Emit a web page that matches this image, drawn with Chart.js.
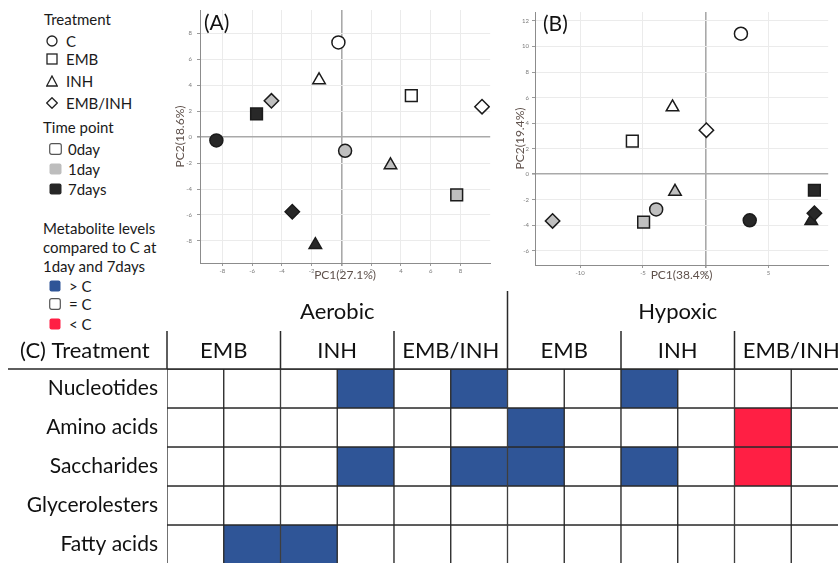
<!DOCTYPE html>
<html>
<head>
<meta charset="utf-8">
<script src="https://cdn.jsdelivr.net/npm/chart.js@4.4.0/dist/chart.umd.min.js"></script>
<style>
  html, body { margin: 0; padding: 0; background: #fff; overflow: hidden; width: 838px; height: 563px; }
  body { position: relative; font-family: Lato, "Open Sans", sans-serif; color: #1a1a1a; }
  .abs { position: absolute; }
  .row { position: absolute; height: 20px; line-height: 20px; display: flex; align-items: center; font-size: 15px; white-space: nowrap; }
  .row svg { display: block; }
  .tag { position: absolute; font-size: 21px; line-height: 24px; color: #111; }
</style>
</head>
<body>

<div id="legend">
  <div class="row" style="top:9px;left:44px">Treatment</div>
  <div class="row" style="top:31px;left:46px"><svg width="12" height="12" style="margin-right:8px"><circle cx="6" cy="6" r="5" fill="none" stroke="#222" stroke-width="1.3"/></svg>C</div>
  <div class="row" style="top:49px;left:46px"><svg width="12" height="12" style="margin-right:8px"><rect x="1" y="1" width="10" height="10" fill="none" stroke="#222" stroke-width="1.3"/></svg>EMB</div>
  <div class="row" style="top:71px;left:46px"><svg width="12" height="12" style="margin-right:8px"><polygon points="6,1 11.3,11 0.7,11" fill="none" stroke="#222" stroke-width="1.3"/></svg>INH</div>
  <div class="row" style="top:93px;left:46px"><svg width="12" height="12" style="margin-right:8px"><polygon points="6,0.7 11.3,6 6,11.3 0.7,6" fill="none" stroke="#222" stroke-width="1.3"/></svg>EMB/INH</div>
  <div class="row" style="top:117px;left:43px">Time point</div>
  <div class="row" style="top:139px;left:49px"><svg width="13" height="12" style="margin-right:6px"><rect x="0.7" y="0.7" width="11.6" height="10.6" rx="2" fill="#fff" stroke="#555" stroke-width="1.2"/></svg>0day</div>
  <div class="row" style="top:159px;left:49px"><svg width="13" height="12" style="margin-right:6px"><rect x="0.5" y="0.5" width="12" height="11" rx="2" fill="#bdbdbd"/></svg>1day</div>
  <div class="row" style="top:179px;left:49px"><svg width="13" height="12" style="margin-right:6px"><rect x="0.5" y="0.5" width="12" height="11" rx="2" fill="#262626"/></svg>7days</div>
  <div class="row" style="top:218px;left:43px">Metabolite levels</div>
  <div class="row" style="top:237px;left:43px">compared to C at</div>
  <div class="row" style="top:256px;left:43px">1day and 7days</div>
  <div class="row" style="top:276px;left:49px"><svg width="12" height="12" style="margin-right:8px"><rect x="0.5" y="0.5" width="11" height="11" rx="2" fill="#2f5597"/></svg>&gt; C</div>
  <div class="row" style="top:294px;left:49px"><svg width="12" height="12" style="margin-right:8px"><rect x="0.7" y="0.7" width="10.6" height="10.6" rx="2" fill="#fff" stroke="#555" stroke-width="1.2"/></svg>= C</div>
  <div class="row" style="top:314px;left:49px"><svg width="12" height="12" style="margin-right:8px"><rect x="0.5" y="0.5" width="11" height="11" rx="2" fill="#ff1f44"/></svg>&lt; C</div>
</div>

<div class="abs" style="left:160px;top:0"><canvas id="pcaA" width="340" height="290"></canvas></div>
<div class="abs" style="left:500px;top:0"><canvas id="pcaB" width="338" height="290"></canvas></div>
<div class="abs" style="left:0;top:285px"><canvas id="table" width="870" height="285"></canvas></div>

<div class="tag" style="left:204px;top:10px">(A)</div>
<div class="tag" style="left:543px;top:11px">(B)</div>

<script>
// ---- data ----
const treatments = ['C', 'EMB', 'INH', 'EMB/INH']
const timePoints = ['0day', '1day', '7days']

// PCA scores, [PC1, PC2] for 0day, 1day, 7days
const aeroC = [[-0.2, 7.3], [0.25, -1.05], [-8.4, -0.25]]
const aeroEMB = [[4.7, 3.2], [7.75, -4.45], [-5.7, 1.8]]
const aeroINH = [[-1.5, 4.4], [3.3, -2.15], [-1.75, -8.3]]
const aeroEMBINH = [[9.45, 2.35], [-4.7, 2.8], [-3.3, -5.75]]

const hypoC = [[2.8, 11.0], [-3.95, -2.75], [3.5, -3.6]]
const hypoEMB = [[-5.85, 2.6], [-4.95, -3.75], [8.65, -1.25]]
const hypoINH = [[-2.65, 5.25], [-2.45, -1.35], [8.4, -3.65]]
const hypoEMBINH = [[0.05, 3.45], [-12.2, -3.65], [8.65, -3.05]]

const aeroXTicks = [-8, -6, -4, -2, 0, 2, 4, 6, 8]
const aeroYTicks = [-8, -6, -4, -2, 0, 2, 4, 6, 8]
const hypoXTicks = [-10, -5, 0, 5]
const hypoYTicks = [-6, -4, -2, 0, 2, 4, 6, 8, 10, 12]

// table (C): 1 = higher than C, 0 = same, -1 = lower
const conditions = ['Aerobic', 'Hypoxic']
const groupLabels = ['EMB', 'INH', 'EMB/INH', 'EMB', 'INH', 'EMB/INH']
const columnDays = ['1day', '7days']
const metaboliteClasses = ['Nucleotides', 'Amino acids', 'Saccharides', 'Glycerolesters', 'Fatty acids']
const nucleotides = [0, 0, 0, 1, 0, 1, 0, 0, 1, 0, 0, 0]
const aminoAcids = [0, 0, 0, 0, 0, 0, 1, 0, 0, 0, -1, 0]
const saccharides = [0, 0, 0, 1, 0, 1, 1, 0, 1, 0, -1, 0]
const glycerolesters = [0, 0, 0, 0, 0, 0, 0, 0, 0, 0, 0, 0]
const fattyAcids = [0, 1, 1, 0, 0, 0, 0, 0, 0, 0, 0, 0]

// ---- styles ----
const FONT = 'Lato, "Open Sans", sans-serif'
Chart.defaults.font.family = FONT
const timeFill = ['#ffffff', '#bfbfbf', '#282828']
const shapes = ['circle', 'rect', 'triangle', 'rectRot']
const radii = [6.5, 8.3, 7.2, 7.2]
const axisTitleColor = '#5f514b'

// keep the axis boxes at the size we ask for
function noPad(s) {
    s.paddingTop = 0
    s.paddingBottom = 0
    s.paddingLeft = 0
    s.paddingRight = 0
}

function pcaPoints(sets) {
    const pts = []
    sets.forEach(function(set, ti) {
        set.forEach(function(p, k) {
            pts.push({x: p[0], y: p[1], treat: ti, time: k})
        })
    })
    return pts
}

function pcaScale(ticksArr, min, max, title, titlePad, tickPad, size) {
    return {
        type: 'linear',
        min: min,
        max: max,
        afterBuildTicks: function(s) { s.ticks = ticksArr.map(v => ({value: v})) },
        afterFit: function(s) {
            if (s.isHorizontal()) s.height = size
            else s.width = size
            noPad(s)
        },
        ticks: {font: {size: 6}, color: '#7a7a7a', padding: tickPad},
        grid: {
            color: c => (c.tick && c.tick.value === 0) ? '#a9a9a9' : '#ebebeb',
            lineWidth: c => (c.tick && c.tick.value === 0) ? 1.6 : 1,
            tickColor: '#9a9a9a',
            tickLength: 3
        },
        border: {color: '#8c8c8c', width: 1},
        title: {display: true, text: title, color: axisTitleColor, font: {size: 12}, padding: titlePad}
    }
}

function makePca(id, sets, opts) {
    const ctx = document.getElementById(id).getContext('2d')
    return new Chart(ctx, {
        type: 'scatter',
        data: {
            datasets: [{
                data: pcaPoints(sets),
                pointStyle: c => shapes[c.raw.treat],
                radius: c => radii[c.raw.treat],
                hoverRadius: c => radii[c.raw.treat],
                backgroundColor: c => timeFill[c.raw.time],
                borderColor: '#1b1b1b',
                borderWidth: 1.5,
                hoverBorderWidth: 1.5
            }]
        },
        options: {
            responsive: false,
            animation: false,
            events: [],
            layout: {padding: opts.padding},
            plugins: {legend: {display: false}, tooltip: {enabled: false}},
            scales: {
                x: pcaScale(opts.xTicks, opts.xMin, opts.xMax, opts.xTitle, {top: 0, bottom: 8}, 1, opts.xH),
                y: pcaScale(opts.yTicks, opts.yMin, opts.yMax, opts.yTitle, {top: 13, bottom: 0}, opts.yTickPad, opts.yW)
            }
        }
    })
}

const chartA = makePca('pcaA', [aeroC, aeroEMB, aeroINH, aeroEMBINH], {
    xTicks: aeroXTicks, yTicks: aeroYTicks,
    xMin: -9.5, xMax: 10, yMin: -9.7, yMax: 9.8,
    xTitle: 'PC1(27.1%)', yTitle: 'PC2(18.6%)',
    padding: {top: 10, right: 7, bottom: 0, left: 0}, xH: 27, yW: 40, yTickPad: 5
})

const chartB = makePca('pcaB', [hypoC, hypoEMB, hypoINH, hypoEMBINH], {
    xTicks: hypoXTicks, yTicks: hypoYTicks,
    xMin: -13.6, xMax: 9.75, yMin: -7.1, yMax: 12.7,
    xTitle: 'PC1(38.4%)', yTitle: 'PC2(19.4%)',
    padding: {top: 12, right: 8, bottom: 0, left: 0}, xH: 25, yW: 35, yTickPad: 3
})

// ---- table (C) ----
const rows = [nucleotides, aminoAcids, saccharides, glycerolesters, fattyAcids]
const columns = []
conditions.forEach(function(cond, ci) {
    groupLabels.slice(ci * 3, ci * 3 + 3).forEach(function(g) {
        columnDays.forEach(d => columns.push(cond + ' ' + g + ' ' + d))
    })
})
const levelColor = v => v > 0 ? '#2f5597' : (v < 0 ? '#ff1f44' : '#ffffff')

const tableHeader = {
    id: 'tableHeader',
    afterDraw(chart) {
        const {ctx, chartArea} = chart
        const x = chart.scales.x
        const colW = x.width / columns.length
        const edge = i => chartArea.left + i * colW
        const top = chartArea.top
        ctx.save()
        ctx.strokeStyle = '#2a2a2a'
        ctx.lineWidth = 1.5
        ctx.beginPath()
        ctx.moveTo(8, top)
        ctx.lineTo(chartArea.right, top)
        for (let g = 0; g <= groupLabels.length; g++) {
            ctx.moveTo(edge(g * 2), top - 38)
            ctx.lineTo(edge(g * 2), top)
        }
        ctx.moveTo(edge(6), top - 78)
        ctx.lineTo(edge(6), top - 38)
        ctx.stroke()

        ctx.fillStyle = '#111'
        ctx.textBaseline = 'middle'
        ctx.font = '22px ' + FONT
        ctx.textAlign = 'left'
        ctx.fillText('(C) Treatment', 20, top - 18)
        ctx.textAlign = 'center'
        groupLabels.forEach(function(g, i) {
            ctx.fillText(g, (edge(i * 2) + edge(i * 2 + 2)) / 2, top - 18)
        })
        conditions.forEach(function(c, i) {
            ctx.fillText(c, (edge(i * 6) + edge(i * 6 + 6)) / 2, top - 57)
        })
        ctx.restore()
    }
}

const tableCtx = document.getElementById('table').getContext('2d')
const tableChart = new Chart(tableCtx, {
    type: 'bar',
    data: {
        labels: columns,
        datasets: rows.map(function(vals, r) {
            return {
                label: metaboliteClasses[r],
                data: vals.map(() => [r, r + 1]),
                backgroundColor: vals.map(levelColor),
                borderColor: '#2a2a2a',
                borderWidth: 1,
                borderSkipped: false,
                grouped: false,
                barPercentage: 1,
                categoryPercentage: 1
            }
        })
    },
    options: {
        responsive: false,
        animation: false,
        events: [],
        layout: {padding: {top: 84, bottom: 6, left: 0, right: 22}},
        plugins: {legend: {display: false}, tooltip: {enabled: false}},
        scales: {
            x: {type: 'category', display: false},
            y: {
                type: 'linear',
                min: 0,
                max: metaboliteClasses.length,
                reverse: true,
                grid: {display: false, drawTicks: false},
                border: {display: false},
                afterBuildTicks: function(s) { s.ticks = metaboliteClasses.map((_, i) => ({value: i + 0.5})) },
                afterFit: function(s) { s.width = 167; noPad(s) },
                ticks: {
                    autoSkip: false,
                    callback: (v, i) => metaboliteClasses[i],
                    font: {size: 21},
                    color: '#111',
                    padding: 9
                }
            }
        }
    },
    plugins: [tableHeader]
})
</script>
</body>
</html>
